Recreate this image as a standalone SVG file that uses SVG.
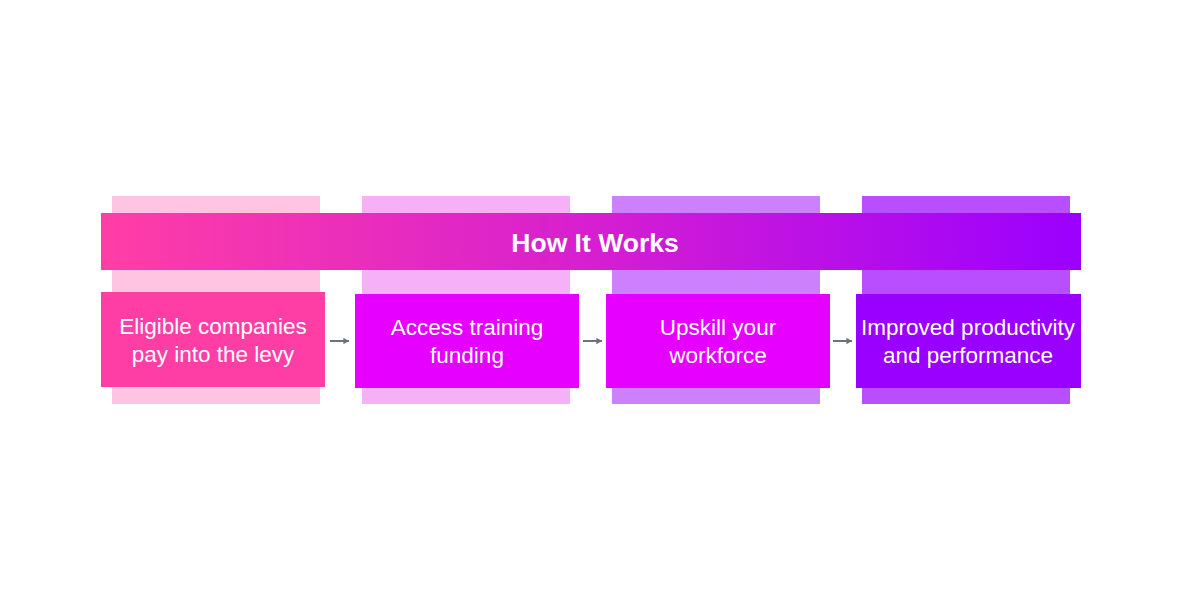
<svg xmlns="http://www.w3.org/2000/svg" width="1200" height="600" viewBox="0 0 1200 600">
<defs>
<linearGradient id="bannerGrad" x1="0" y1="0" x2="1" y2="0">
<stop offset="0" stop-color="#FF3EA5"/>
<stop offset="0.5" stop-color="#D61FD0"/>
<stop offset="1" stop-color="#9A00FF"/>
</linearGradient>
<marker id="arrow" viewBox="0 0 10 10" refX="9" refY="5" markerWidth="8" markerHeight="8" markerUnits="userSpaceOnUse" orient="auto">
<path d="M2,1 L9,5 L2,9 Z" fill="#6B7280"/>
</marker>
</defs>
<style>
.label{font-family:"Liberation Sans",Arial,sans-serif;font-size:22.5px;fill:#FFFFFF;text-anchor:middle}
.title{font-family:"Liberation Sans",Arial,sans-serif;font-size:26.5px;font-weight:bold;fill:#FFFFFF;text-anchor:middle}
.conn{stroke:#6B7280;stroke-width:2;fill:none}
</style>
<rect width="1200" height="600" fill="#FFFFFF"/>
<g id="backgrounds">
<rect x="112" y="196" width="208" height="208" fill="#FFC4E2"/>
<rect x="362" y="196" width="208" height="208" fill="#F5B0F8"/>
<rect x="612" y="196" width="208" height="208" fill="#CD80FB"/>
<rect x="862" y="196" width="208" height="208" fill="#B84EFF"/>
</g>
<g id="banner">
<rect x="101" y="213" width="980" height="57" fill="url(#bannerGrad)"/>
<text class="title" x="595" y="252">How It Works</text>
</g>
<g id="step1">
<rect x="101" y="292" width="224" height="95" fill="#FF3EA5"/>
<text class="label" x="213" y="334">Eligible companies</text>
<text class="label" x="213" y="362">pay into the levy</text>
</g>
<g id="step2">
<rect x="355" y="294" width="224" height="94" fill="#E600FF"/>
<text class="label" x="467" y="335">Access training</text>
<text class="label" x="467" y="363">funding</text>
</g>
<g id="step3">
<rect x="606" y="294" width="224" height="94" fill="#E600FF"/>
<text class="label" x="718" y="335">Upskill your</text>
<text class="label" x="718" y="363">workforce</text>
</g>
<g id="step4">
<rect x="856" y="294" width="225" height="94" fill="#9A00FF"/>
<text class="label" x="968" y="335">Improved productivity</text>
<text class="label" x="968" y="363">and performance</text>
</g>
<g id="connectors">
<line class="conn" x1="330" y1="341" x2="349" y2="341" marker-end="url(#arrow)"/>
<line class="conn" x1="583" y1="341" x2="602" y2="341" marker-end="url(#arrow)"/>
<line class="conn" x1="833" y1="341" x2="852" y2="341" marker-end="url(#arrow)"/>
</g>
</svg>
